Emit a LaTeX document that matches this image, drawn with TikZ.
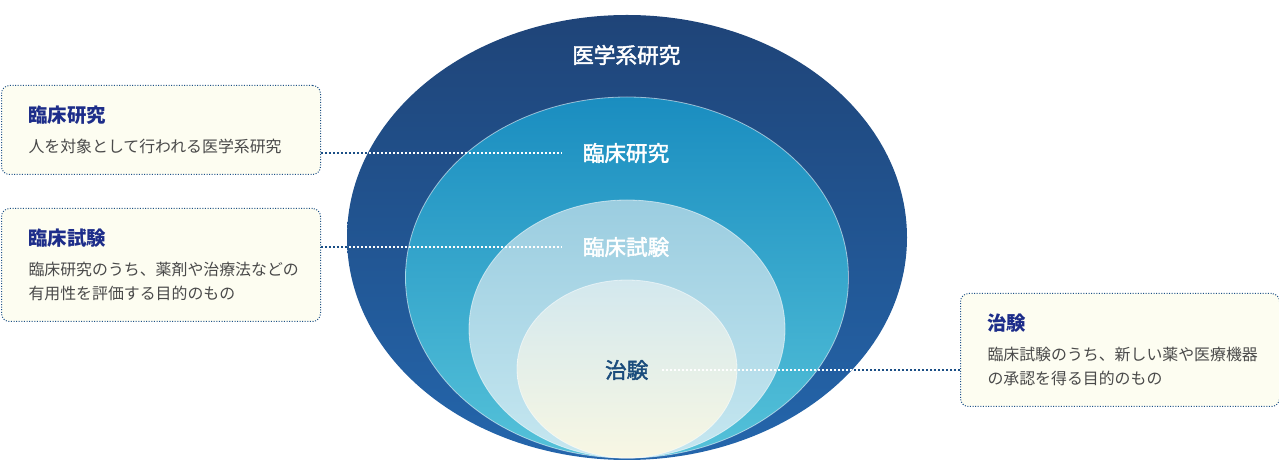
\documentclass[tikz,border=0pt]{standalone}
\usepackage{fontspec}
\setmainfont{Noto Sans CJK JP}
\newfontfamily\ringfont{Noto Sans CJK JP}[FakeBold=2]
\definecolor{navytitle}{HTML}{1D2D8A}
\definecolor{desctext}{HTML}{4A4A4A}
\definecolor{dotblue}{HTML}{1B4F86}
\definecolor{boxfill}{HTML}{FDFDF1}
\definecolor{outertop}{HTML}{1F4478}
\definecolor{outermid}{HTML}{23659B}
\definecolor{outerbot}{HTML}{2466AC}
\definecolor{rintop}{HTML}{1A8DC0}
\definecolor{rinbot}{HTML}{55C2D9}
\definecolor{shitop}{HTML}{9BCDE0}
\definecolor{shibot}{HTML}{C6E7F0}
\definecolor{chitop}{HTML}{D3E8EE}
\definecolor{chibot}{HTML}{F8F7E3}
\definecolor{chitext}{HTML}{1A4C7C}
\newcommand{\boxhead}[1]{{\fontsize{19.4}{24}\selectfont\bfseries\color{navytitle}#1}\\[6pt]}
\begin{document}
\begin{tikzpicture}[x=1pt,y=1pt,
  infobox/.style={draw=dotblue, line width=1pt, dash pattern=on 1pt off 1.6pt,
    fill=boxfill, rounded corners=8pt, anchor=north west,
    minimum width=319pt, minimum height=#1, text width=265pt, align=left,
    inner xsep=27pt, inner ysep=0pt, text=desctext,
    font=\fontsize{15.9}{24}\selectfont},
  ringlabel/.style={font=\fontsize{21.6}{22}\selectfont\ringfont, text=white,
    inner xsep=20.5pt, inner ysep=0pt},
  link/.style={dotblue, line width=2pt, dash pattern=on 2pt off 2pt},
  rim/.style={draw=white, draw opacity=0.55, line width=0.8pt}]
\useasboundingbox (0,0) rectangle (1279,460);

% nested ellipses
\shade[top color=outertop, middle color=outermid, bottom color=outerbot]
  (627,222.5) ellipse [x radius=280pt, y radius=222.5pt];
\shade[top color=rintop, bottom color=rinbot]
  (627,182.5) ellipse [x radius=221.5pt, y radius=180.5pt];
\draw[rim] (627,182.5) ellipse [x radius=221.5pt, y radius=180.5pt];
\shade[top color=shitop, bottom color=shibot]
  (627,131) ellipse [x radius=158pt, y radius=129pt];
\draw[rim] (627,131) ellipse [x radius=158pt, y radius=129pt];
\shade[top color=chitop, bottom color=chibot]
  (627,91) ellipse [x radius=110pt, y radius=89pt];
\draw[rim] (627,91) ellipse [x radius=110pt, y radius=89pt];

\node[ringlabel] (igaku) at (626.3,405) {医学系研究};
\node[ringlabel] (kenkyu) at (626,307) {臨床研究};
\node[ringlabel] (shiken) at (626,213) {臨床試験};
\node[ringlabel, text=chitext, inner xsep=13.5pt] (chiken) at (626.7,90) {治験};

% explanation boxes
\node[infobox=89pt] (box1) at (1,375)
  {\boxhead{臨床研究}人を対象として行われる医学系研究};
\node[infobox=113pt] (box2) at (1,252)
  {\boxhead{臨床試験}臨床研究のうち、薬剤や治療法などの\\有用性を評価する目的のもの};
\node[infobox=113pt] (box3) at (960,167)
  {\boxhead{治験}臨床試験のうち、新しい薬や医療機器\\の承認を得る目的のもの};

% dotted links, white where they cross the ellipse
\draw[link] (box1.east |- kenkyu.west) -- (kenkyu.west);
\draw[link] (box2.east |- shiken.west) -- (shiken.west);
\draw[link] (chiken.east) -- (box3.west |- chiken.east);
\begin{scope}
\clip (627,222.5) ellipse [x radius=280pt, y radius=222.5pt];
\draw[link, white] (box1.east |- kenkyu.west) -- (kenkyu.west);
\draw[link, white] (box2.east |- shiken.west) -- (shiken.west);
\draw[link, white] (chiken.east) -- (box3.west |- chiken.east);
\end{scope}
\end{tikzpicture}
\end{document}
